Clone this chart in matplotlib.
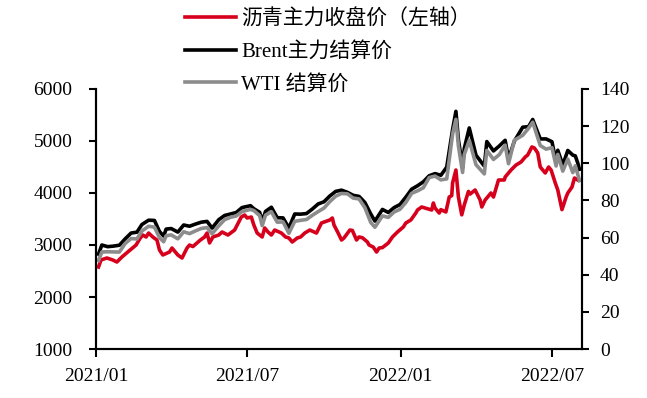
import matplotlib
matplotlib.use("Agg")
import matplotlib.pyplot as plt
import matplotlib.dates as mdates
import pandas as pd

plt.rcParams['font.family'] = ['Liberation Serif', 'Noto Sans CJK SC']

# ---------------- data ----------------
oil_dates = [
    "2021-01-04", "2021-01-08", "2021-01-15", "2021-01-22", "2021-01-29",
    "2021-02-05", "2021-02-12", "2021-02-19", "2021-02-25", "2021-03-05",
    "2021-03-12", "2021-03-18", "2021-03-23", "2021-03-26", "2021-04-01",
    "2021-04-09", "2021-04-16", "2021-04-23", "2021-04-30", "2021-05-07",
    "2021-05-14", "2021-05-20", "2021-05-28", "2021-06-04", "2021-06-11",
    "2021-06-18", "2021-06-25", "2021-07-05", "2021-07-09", "2021-07-16",
    "2021-07-19", "2021-07-23", "2021-07-30", "2021-08-06", "2021-08-13",
    "2021-08-20", "2021-08-27", "2021-09-03", "2021-09-10", "2021-09-17",
    "2021-09-24", "2021-10-01", "2021-10-08", "2021-10-15", "2021-10-22",
    "2021-10-29", "2021-11-05", "2021-11-12", "2021-11-19", "2021-11-26",
    "2021-12-01", "2021-12-10", "2021-12-17", "2021-12-24", "2021-12-31",
    "2022-01-07", "2022-01-14", "2022-01-21", "2022-01-28", "2022-02-04",
    "2022-02-11", "2022-02-18", "2022-02-25", "2022-03-04", "2022-03-08",
    "2022-03-11", "2022-03-16", "2022-03-18", "2022-03-24", "2022-04-01",
    "2022-04-11", "2022-04-14", "2022-04-22", "2022-04-29", "2022-05-06",
    "2022-05-10", "2022-05-17", "2022-05-27", "2022-06-03", "2022-06-08",
    "2022-06-17", "2022-06-24", "2022-07-01", "2022-07-06", "2022-07-08",
    "2022-07-14", "2022-07-20", "2022-07-26", "2022-07-29", "2022-08-01",
    "2022-08-03",
]
brent = [
    51.09, 55.99, 55.10, 55.41, 55.88,
    59.34, 62.43, 62.91, 67.04, 69.36,
    69.22, 63.28, 60.79, 64.57, 64.86,
    62.95, 66.77, 66.11, 67.25, 68.28,
    68.71, 65.11, 69.63, 71.89, 72.69,
    73.51, 76.18, 77.16, 75.55, 73.59,
    68.62, 74.10, 76.33, 70.70, 70.59,
    65.18, 72.70, 72.61, 72.92, 75.34,
    78.09, 79.28, 82.39, 84.86, 85.53,
    84.38, 82.74, 82.17, 78.89, 72.72,
    68.87, 75.15, 73.52, 76.14, 77.78,
    81.75, 86.06, 87.89, 90.03, 93.27,
    94.44, 93.54, 97.93, 118.11, 127.98,
    112.67, 98.02, 107.93, 119.03, 104.39,
    98.48, 111.70, 106.65, 109.34, 112.39,
    102.46, 111.93, 119.43, 119.72, 123.58,
    113.12, 113.12, 111.63, 100.69, 107.02,
    99.10, 106.92, 104.40, 103.97, 100.03,
    96.78,
]
wti = [
    47.62, 52.24, 52.36, 52.27, 52.20,
    56.85, 59.47, 59.24, 63.53, 66.09,
    65.61, 60.00, 57.76, 60.97, 61.45,
    59.32, 63.13, 62.14, 63.58, 64.90,
    65.37, 62.05, 66.32, 69.62, 70.91,
    71.64, 74.05, 75.16, 74.56, 71.81,
    66.42, 72.07, 73.95, 68.28, 68.44,
    62.32, 68.74, 69.29, 69.72, 71.97,
    73.98, 75.88, 79.35, 82.28, 83.76,
    83.57, 81.27, 80.79, 76.10, 68.15,
    65.57, 71.67, 70.86, 73.79, 75.21,
    78.90, 83.82, 85.14, 86.82, 92.31,
    93.10, 91.07, 91.59, 115.68, 123.70,
    109.33, 95.04, 104.70, 112.34, 99.27,
    94.29, 106.95, 102.07, 104.69, 109.77,
    99.76, 112.40, 115.07, 118.87, 122.11,
    109.56, 107.62, 108.43, 98.53, 104.79,
    95.78, 102.26, 94.98, 98.62, 93.89,
    90.66,
]

asphalt_dates = [
    "2021-01-04", "2021-01-07", "2021-01-14", "2021-01-21", "2021-01-26",
    "2021-02-01", "2021-02-08", "2021-02-18", "2021-02-23", "2021-02-26",
    "2021-03-02", "2021-03-05", "2021-03-10", "2021-03-15", "2021-03-18",
    "2021-03-22", "2021-03-30", "2021-04-02", "2021-04-09", "2021-04-14",
    "2021-04-20", "2021-04-23", "2021-04-27", "2021-05-06", "2021-05-11",
    "2021-05-14", "2021-05-17", "2021-05-21", "2021-05-28", "2021-06-01",
    "2021-06-08", "2021-06-16", "2021-06-24", "2021-06-28", "2021-07-01",
    "2021-07-06", "2021-07-09", "2021-07-13", "2021-07-19", "2021-07-22",
    "2021-07-26", "2021-07-30", "2021-08-03", "2021-08-11", "2021-08-16",
    "2021-08-20", "2021-08-24", "2021-08-30", "2021-09-03", "2021-09-08",
    "2021-09-14", "2021-09-22", "2021-09-28", "2021-10-08", "2021-10-11",
    "2021-10-13", "2021-10-18", "2021-10-22", "2021-10-25", "2021-11-01",
    "2021-11-04", "2021-11-09", "2021-11-12", "2021-11-16", "2021-11-22",
    "2021-11-24", "2021-11-29", "2021-12-03", "2021-12-06", "2021-12-10",
    "2021-12-17", "2021-12-22", "2021-12-28", "2022-01-04", "2022-01-07",
    "2022-01-13", "2022-01-19", "2022-01-21", "2022-01-26", "2022-02-07",
    "2022-02-09", "2022-02-11", "2022-02-16", "2022-02-18", "2022-02-24",
    "2022-02-28", "2022-03-03", "2022-03-04", "2022-03-08", "2022-03-11",
    "2022-03-15", "2022-03-18", "2022-03-23", "2022-03-25", "2022-03-31",
    "2022-04-06", "2022-04-08", "2022-04-12", "2022-04-15", "2022-04-19",
    "2022-04-22", "2022-04-28", "2022-05-05", "2022-05-06", "2022-05-10",
    "2022-05-13", "2022-05-19", "2022-05-25", "2022-05-30", "2022-06-02",
    "2022-06-07", "2022-06-10", "2022-06-14", "2022-06-17", "2022-06-23",
    "2022-06-27", "2022-06-30", "2022-07-05", "2022-07-08", "2022-07-13",
    "2022-07-18", "2022-07-20", "2022-07-25", "2022-07-28", "2022-08-01",
]
asphalt = [
    2577, 2712, 2750, 2712, 2673,
    2769, 2865, 3000, 3135, 3192,
    3154, 3230, 3154, 3096, 2904,
    2808, 2865, 2942, 2808, 2750,
    2942, 3000, 2970, 3096, 3154,
    3230, 3040, 3154, 3192, 3250,
    3192, 3288, 3538, 3577, 3519,
    3538, 3385, 3230, 3154, 3327,
    3250, 3192, 3288, 3230, 3154,
    3135, 3058, 3135, 3154, 3230,
    3288, 3230, 3423, 3481, 3519,
    3385, 3230, 3096, 3135, 3288,
    3280, 3096, 3154, 3140, 3058,
    3000, 2961, 2865, 2942, 2950,
    3038, 3154, 3250, 3346, 3423,
    3481, 3615, 3673, 3731, 3673,
    3808, 3712, 3615, 3680, 3635,
    3923, 3950, 4192, 4442, 3923,
    3580, 3770, 4030, 3980, 4058,
    3865, 3731, 3865, 3923, 4000,
    3923, 4250, 4250, 4308, 4385,
    4442, 4538, 4596, 4692, 4731,
    4885, 4865, 4769, 4500, 4385,
    4500, 4442, 4192, 4058, 3680,
    3923, 4000, 4115, 4288, 4250,
]

labels = ["沥青主力收盘价（左轴）", "Brent主力结算价", "WTI 结算价"]
left_ticks = [1000, 2000, 3000, 4000, 5000, 6000]
right_ticks = [0, 20, 40, 60, 80, 100, 120, 140]
x_ticks = ["2021-01-01", "2021-07-01", "2022-01-01", "2022-07-01"]

# ---------------- plot ----------------
RED = "#D7001C"
GRAY = "#8C8C8C"
LW = 2.6

fig = plt.figure(figsize=(6.47, 3.98), dpi=100)
ax = fig.add_axes([96 / 647, 1 - 349 / 398, (582 - 96) / 647, (349 - 89) / 398])
ax2 = ax.twinx()

l1, = ax.plot(pd.to_datetime(asphalt_dates), asphalt, color=RED, lw=LW, solid_joinstyle="round")
l2, = ax2.plot(pd.to_datetime(oil_dates), brent, color="black", lw=LW, solid_joinstyle="round")
l3, = ax2.plot(pd.to_datetime(oil_dates), wti, color=GRAY, lw=LW, solid_joinstyle="round")

ax.set_ylim(1000, 6000)
ax.set_yticks(left_ticks)
ax2.set_ylim(0, 140)
ax2.set_yticks(right_ticks)
ax.set_xlim(pd.Timestamp("2021-01-01"), pd.Timestamp("2022-08-06"))
ax.set_xticks(pd.to_datetime(x_ticks))
ax.xaxis.set_major_formatter(mdates.DateFormatter("%Y/%m"))

for a in (ax, ax2):
    a.spines["top"].set_visible(False)
    for s in ("left", "right", "bottom"):
        a.spines[s].set_linewidth(1.5)
        a.spines[s].set_color("black")

ax.tick_params(axis="y", direction="out", length=5, width=1.5, pad=12, labelsize=14)
ax2.tick_params(axis="y", direction="out", length=5, width=1.5, pad=8, labelsize=14)
ax.tick_params(axis="x", direction="out", length=6, width=1.5, pad=8, labelsize=14)

fig.legend([l1, l2, l3], labels, loc="upper left",
           bbox_to_anchor=(185 / 647, 1 - 9 / 398), frameon=False,
           fontsize=15, handlelength=2.45, handletextpad=0.25,
           labelspacing=0.62, borderpad=0, borderaxespad=0)

fig.savefig("out.png", dpi=100)
